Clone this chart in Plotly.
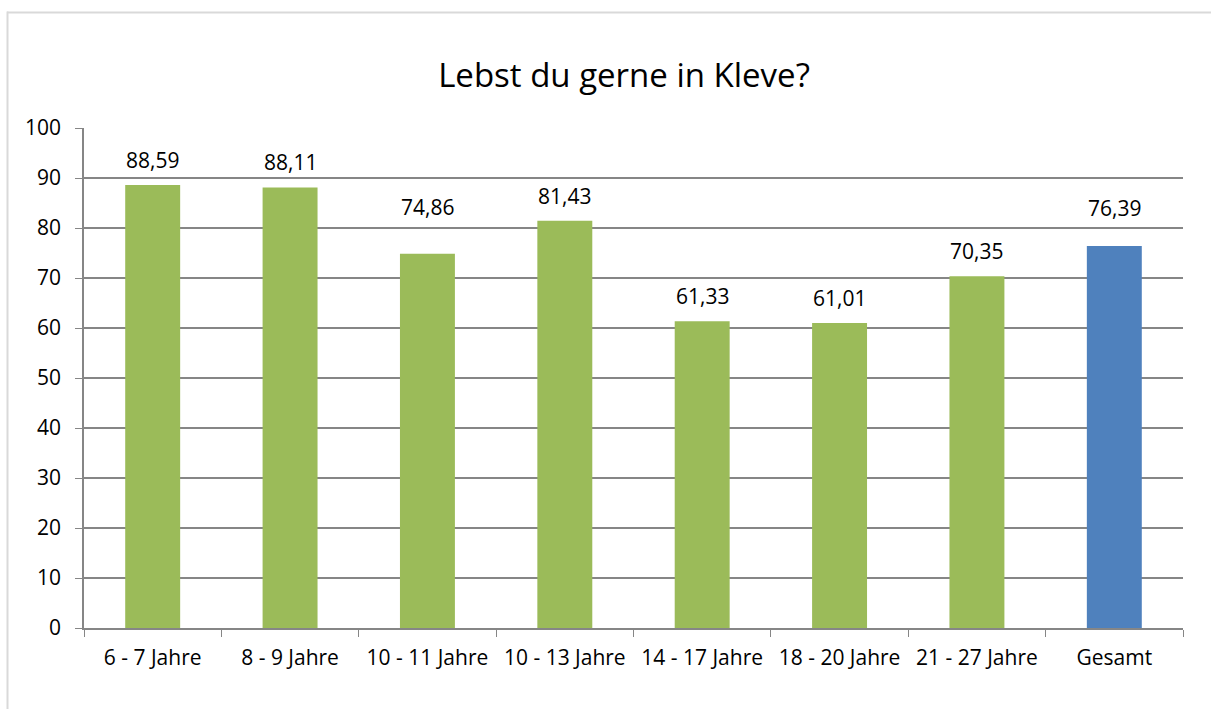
import plotly.graph_objects as go

categories = ["6 - 7 Jahre", "8 - 9 Jahre", "10 - 11 Jahre", "10 - 13 Jahre",
              "14 - 17 Jahre", "18 - 20 Jahre", "21 - 27 Jahre", "Gesamt"]
values = [88.59, 88.11, 74.86, 81.43, 61.33, 61.01, 70.35, 76.39]
labels = ["88,59", "88,11", "74,86", "81,43", "61,33", "61,01", "70,35", "76,39"]
bar_colors = ["#9BBB59"] * 7 + ["#4F81BD"]
# extra vertical offset (px) of each data label above its bar, as placed in the original
label_shift = [9, 9, 31, 9, 9, 9, 9, 22]

FONT = "Open Sans, Liberation Sans, sans-serif"
FS = 21

fig = go.Figure()
fig.add_trace(go.Bar(x=categories, y=values, marker=dict(color=bar_colors, line=dict(width=0)),
                     width=0.4, hoverinfo="x+y"))

for c, v, t, s in zip(categories, values, labels, label_shift):
    fig.add_annotation(x=c, y=v, text=t, showarrow=False, yanchor="bottom", yshift=s,
                       font=dict(family=FONT, size=FS, color="#000000"))

L, R, T, B = 84, 28, 128, 81
W, H = 1211, 709
pw, ph = W - L - R, H - T - B

# chart frame: only top and left edges are visible (the picture is cropped)
fx = lambda px: (px - L) / pw
fy = lambda py: ((H - B) - py) / ph
fig.add_shape(type="line", xref="paper", yref="paper", x0=fx(7), x1=fx(W + 5), y0=fy(12.5), y1=fy(12.5),
              line=dict(color="#D9D9D9", width=2), layer="below")
fig.add_shape(type="line", xref="paper", yref="paper", x0=fx(7.5), x1=fx(7.5), y0=fy(11.5), y1=fy(H + 5),
              line=dict(color="#D9D9D9", width=2), layer="below")

fig.update_layout(
    width=W, height=H,
    margin=dict(l=L, r=R, t=T, b=B),
    paper_bgcolor="white", plot_bgcolor="white",
    showlegend=False,
    title=dict(text="Lebst du gerne in Kleve?", xref="container", x=624 / W, xanchor="center",
               y=1 - 75 / H, yanchor="middle",
               font=dict(family=FONT, size=33, color="#000000")),
    font=dict(family=FONT, size=FS, color="#000000"),
    xaxis=dict(type="category", tickson="boundaries", ticks="outside", ticklen=7, tickcolor="#868686",
               showline=True, linecolor="#868686", linewidth=1.5, showgrid=False,
               ticklabelstandoff=10,
               tickfont=dict(family=FONT, size=FS, color="#000000")),
    yaxis=dict(range=[0, 100], dtick=10, ticks="outside", ticklen=7, tickcolor="#868686",
               showline=True, linecolor="#868686", linewidth=1.5,
               showgrid=True, gridcolor="#868686", gridwidth=1.5, zeroline=False,
               ticklabelstandoff=10,
               tickfont=dict(family=FONT, size=FS, color="#000000")),
)

fig.write_html("out.html", config={"displayModeBar": False},
               post_script="document.body.style.margin='0';")
